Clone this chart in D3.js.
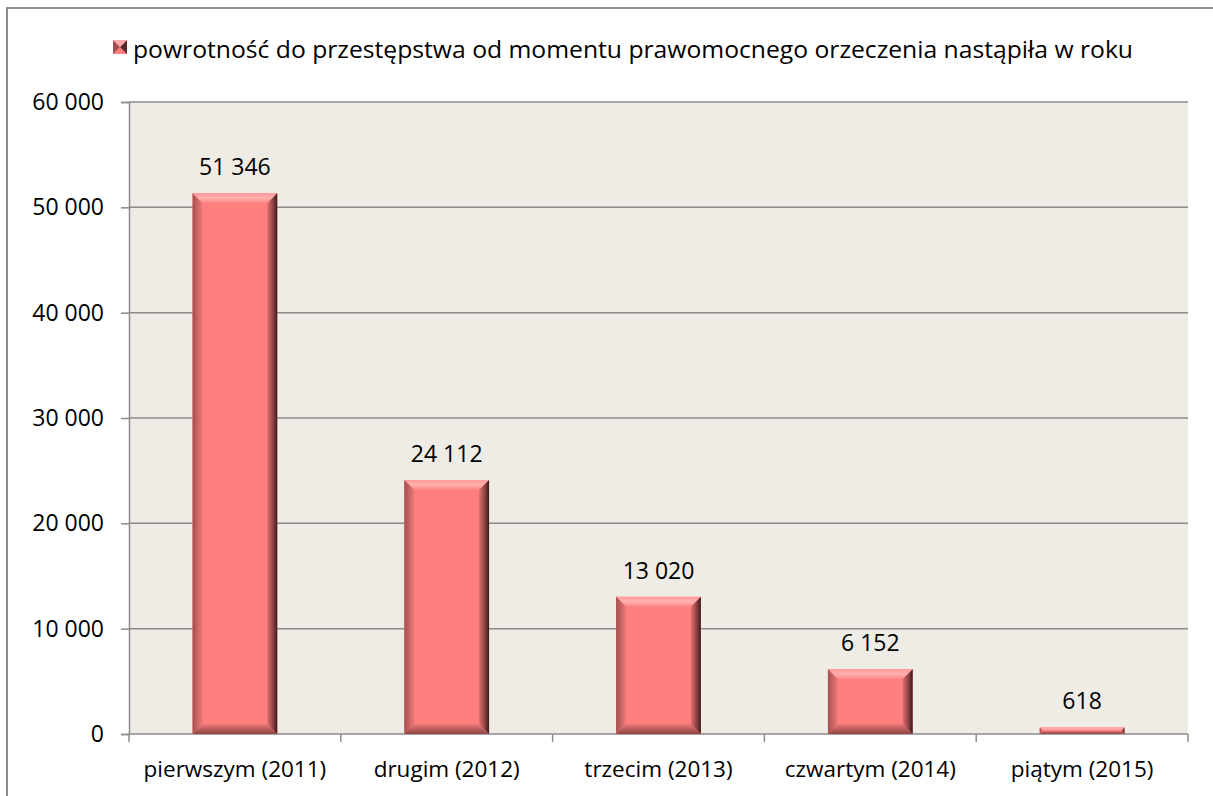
<!DOCTYPE html>
<html><head><meta charset="utf-8">
<script src="https://cdn.jsdelivr.net/npm/d3@7"></script>
<style>body{margin:0;background:#fff}svg{display:block}text{font-family:"Open Sans","Lato",sans-serif;fill:#000}</style>
</head><body>
<svg id="c" width="1213" height="796"></svg>
<script>
const categories = ["pierwszym (2011)","drugim (2012)","trzecim (2013)","czwartym (2014)","piątym (2015)"];
const values = [51346, 24112, 13020, 6152, 618];
const yTicks = [0,10000,20000,30000,40000,50000,60000];
const legendLabel = "powrotność do przestępstwa od momentu prawomocnego orzeczenia nastąpiła w roku";

const svg = d3.select("#c");
const loc = d3.formatLocale({decimal:",", thousands:"\u00a0", grouping:[3], currency:["",""]});
const fmt = loc.format(",d");
const L=129,R=1188,T=102,B=734;
const x = d3.scaleBand().domain(categories).range([L,R]).paddingInner(0.6).paddingOuter(0.3);
const y = d3.scaleLinear().domain([0,60000]).range([B,T]);

// outer border
svg.append("rect").attr("x",7).attr("y",8).attr("width",1230).attr("height",820).attr("fill","none").attr("stroke","#8c8c8c").attr("stroke-width",2);

const defs = svg.append("defs");
function lg(id,x1,y1,x2,y2,stops){const g=defs.append("linearGradient").attr("id",id).attr("x1",x1).attr("y1",y1).attr("x2",x2).attr("y2",y2);stops.forEach(s=>g.append("stop").attr("offset",s[0]).attr("stop-color",s[1]));}
lg("gl",0,0,1,0,[[0,"#a35050"],[1,"#f07a7a"]]);
lg("gr",0,0,1,0,[[0,"#e07070"],[0.6,"#8a4040"],[1,"#3a1a1a"]]);
lg("gt",0,0,0,1,[[0,"#ff9a9a"],[0.5,"#ffb0b0"],[1,"#ff8282"]]);
lg("gb",0,0,0,1,[[0,"#f07878"],[1,"#8c4444"]]);

// plot bg
svg.append("rect").attr("x",L).attr("y",T).attr("width",R-L).attr("height",B-T).attr("fill","#efebe5");

// grid
svg.append("g").selectAll("line").data(yTicks.filter(d=>d>0)).join("line")
 .attr("x1",L).attr("x2",R).attr("y1",d=>y(d)).attr("y2",d=>y(d)).attr("stroke","#8c8c8c").attr("stroke-width",1.5);

// y axis
const ya = svg.append("g").attr("transform",`translate(${L},0)`).call(d3.axisLeft(y).tickValues(yTicks).tickFormat(fmt).tickSize(8).tickPadding(17));
ya.select(".domain").attr("stroke","#8c8c8c").attr("stroke-width",1.5);
ya.selectAll(".tick line").attr("stroke","#8c8c8c").attr("stroke-width",1.5);
ya.selectAll("text").style("font-size","23px").attr("fill","#000");

// x axis
const xa = svg.append("g").attr("transform",`translate(0,${B})`);
xa.append("line").attr("x1",L).attr("x2",R).attr("stroke","#8c8c8c").attr("stroke-width",1.5);
const bounds = d3.range(categories.length+1).map(i=>L+(R-L)*i/categories.length);
xa.selectAll("line.t").data(bounds).join("line").attr("class","t").attr("x1",d=>d).attr("x2",d=>d).attr("y1",0).attr("y2",8).attr("stroke","#8c8c8c").attr("stroke-width",1.5);
xa.selectAll("text").data(categories).join("text").attr("x",d=>x(d)+x.bandwidth()/2).attr("y",43).attr("text-anchor","middle").style("font-size","22.5px").text(d=>d);

// bars
const bv = 10;
const bars = svg.append("g").selectAll("g").data(values).join("g");
bars.each(function(v,i){
  const g=d3.select(this);
  const x0=x(categories[i]), w=x.bandwidth(), y0=y(v), h=B-y0;
  const b=Math.min(bv,h/2,w/2);
  g.append("rect").attr("x",x0).attr("y",y0).attr("width",w).attr("height",h).attr("fill","#ff7f7f");
  const x1=x0+w, y1=B;
  g.append("polygon").attr("points",[[x0,y0],[x0+b,y0+b],[x1-b,y0+b],[x1,y0]].join(" ")).attr("fill","url(#gt)");
  g.append("polygon").attr("points",[[x0,y1],[x0+b,y1-b],[x1-b,y1-b],[x1,y1]].join(" ")).attr("fill","url(#gb)");
  g.append("polygon").attr("points",[[x0,y0],[x0+b,y0+b],[x0+b,y1-b],[x0,y1]].join(" ")).attr("fill","url(#gl)");
  g.append("polygon").attr("points",[[x1,y0],[x1-b,y0+b],[x1-b,y1-b],[x1,y1]].join(" ")).attr("fill","url(#gr)");
});

// labels
svg.append("g").selectAll("text").data(values).join("text")
 .attr("x",(d,i)=>x(categories[i])+x.bandwidth()/2).attr("y",d=>y(d)-18).attr("text-anchor","middle").style("font-size","23px").text(d=>fmt(d));

// legend
const lgd = svg.append("g").attr("transform","translate(113,40)");
lgd.append("rect").attr("width",14).attr("height",14).attr("fill","#ff7f7f");
lgd.append("polygon").attr("points","0,0 7,7 0,14").attr("fill","#a35050");
lgd.append("polygon").attr("points","14,0 7,7 14,14").attr("fill","#5a2a2a");
lgd.append("polygon").attr("points","0,0 7,7 14,0").attr("fill","#ffaaaa");
lgd.append("text").attr("x",20).attr("y",18).attr("textLength",1000).attr("lengthAdjust","spacingAndGlyphs").style("font-size","23.5px").text(legendLabel);
</script>
</body></html>
